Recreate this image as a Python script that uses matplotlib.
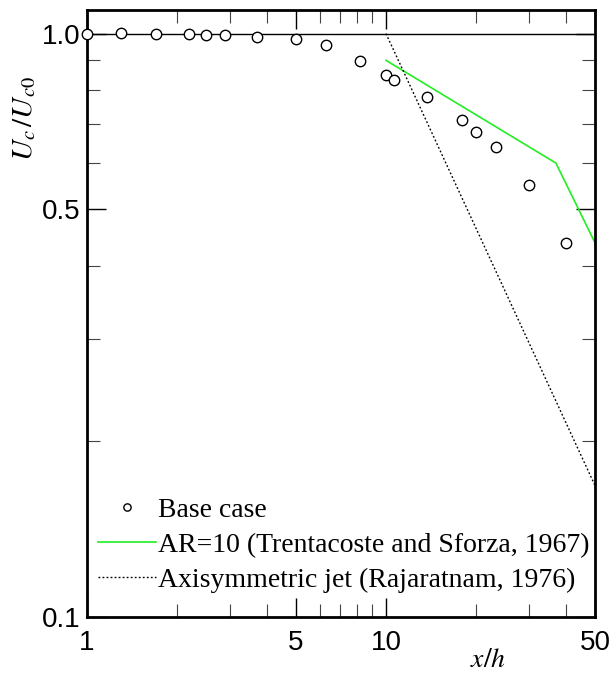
import numpy as np
import matplotlib
matplotlib.use("Agg")
import matplotlib.pyplot as plt
from matplotlib.ticker import FixedLocator, NullFormatter

# base case measurements
x_base = [1.0, 1.3, 1.7, 2.2, 2.5, 2.9, 3.7, 5.0, 6.3, 8.2, 10.0, 10.6,
          13.7, 17.9, 20.0, 23.3, 30.0, 40.0]
u_base = [1.0, 1.003, 1.0, 0.999, 0.995, 0.994, 0.988, 0.979, 0.957, 0.897,
          0.848, 0.834, 0.779, 0.712, 0.677, 0.640, 0.550, 0.437]

# AR=10 (Trentacoste and Sforza, 1967)
x_ar10 = [10.0, 37.0, 50.0]
u_ar10 = [0.9, 0.6, 0.438]

# axisymmetric jet (Rajaratnam, 1976)
x_axi = [10.0, 50.0]
u_axi = [1.0, 0.168]

plt.rcParams['mathtext.fontset'] = 'stix'
plt.rcParams['font.family'] = 'Liberation Sans'

dpi = 100
fig = plt.figure(figsize=(6.14, 6.75), dpi=dpi)
ax = fig.add_axes([87/614, (675-617)/675, 508/614, 607.5/675])

ax.axhline(1.0, color='black', lw=1.0, zorder=2)
ax.plot(x_base, u_base, 'o', ms=7.5, mfc='white', mec='black', mew=1.0,
        clip_on=False, zorder=5, label='Base case')
ax.plot(x_ar10, u_ar10, '-', color='#22ee22', lw=1.2, label='AR=10 (Trentacoste and Sforza, 1967)')
ax.plot(x_axi, u_axi, color='black', lw=1.0, ls=(0, (1.3, 1.6)),
        label='Axisymmetric jet (Rajaratnam, 1976)')

ax.set_xscale('log')
ax.set_yscale('log')
ax.set_xlim(1, 50)
ax.set_ylim(0.1, 1.1)

ax.xaxis.set_major_locator(FixedLocator([1, 5, 10, 50]))
ax.xaxis.set_minor_locator(FixedLocator([2, 3, 4, 6, 7, 8, 9, 20, 30, 40]))
ax.set_xticklabels(['1', '5', '10', '50'])
ax.xaxis.set_minor_formatter(NullFormatter())
ax.yaxis.set_major_locator(FixedLocator([0.1, 0.5, 1.0]))
ax.yaxis.set_minor_locator(FixedLocator([0.2, 0.3, 0.4, 0.6, 0.7, 0.8, 0.9]))
ax.set_yticklabels(['0.1', '0.5', '1.0'])
ax.yaxis.set_minor_formatter(NullFormatter())

ax.tick_params(which='both', direction='in', top=True, right=True, labelsize=20)
ax.tick_params(which='major', length=14, width=1.0)
ax.tick_params(which='minor', length=9.5, width=0.8, color='#444444')
ax.tick_params(axis='x', which='major', pad=9)
ax.tick_params(axis='y', which='major', pad=5)
for s in ax.spines.values():
    s.set_linewidth(2.0)

ax.set_xlabel('$x/h$', fontsize=20)
ax.xaxis.set_label_coords(0.789, -0.05)
ax.set_ylabel('$U_c\\,/U_{c0}$', fontsize=21)
ax.yaxis.set_label_coords(-0.097, 0.82)

leg = ax.legend(loc='lower left', bbox_to_anchor=(0.0217, 0.04), frameon=False,
                prop={'family': 'Liberation Serif', 'size': 20}, borderpad=0,
                borderaxespad=0, handlelength=2.1, handletextpad=0.05,
                labelspacing=0.34, markerscale=0.7)

fig.savefig('out.png', dpi=dpi)
